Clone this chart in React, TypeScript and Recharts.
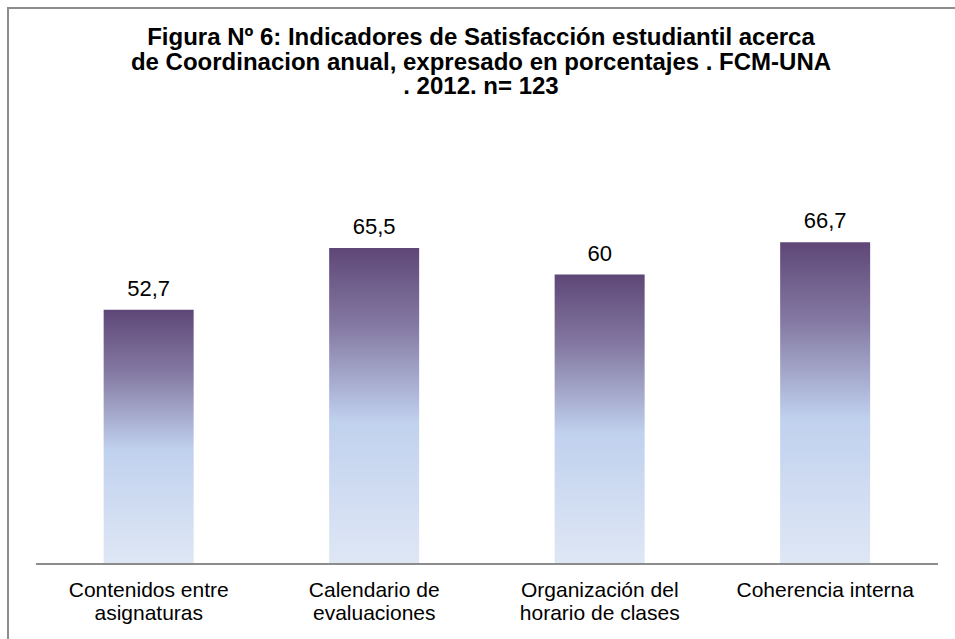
import { BarChart, Bar, XAxis, YAxis, LabelList } from "recharts"

const categories = [
  ["Contenidos entre", "asignaturas"],
  ["Calendario de", "evaluaciones"],
  ["Organización del", "horario de clases"],
  ["Coherencia interna"],
]
const values = [52.7, 65.5, 60, 66.7]
const titleLines = [
  "Figura Nº 6: Indicadores de Satisfacción estudiantil acerca",
  "de Coordinacion anual, expresado en porcentajes . FCM-UNA",
  ". 2012. n= 123",
]

const data = categories.map((lines, i) => ({ name: lines.join(" "), lines, value: values[i] }))

const font = "'Liberation Sans', Arial, sans-serif"

function CategoryTick(props: any) {
  const { x, y, payload, index } = props
  const lines = categories[index] ?? [payload.value]
  return (
    <text x={x} y={y} textAnchor="middle" fontFamily={font} fontSize={21} fill="#000">
      {lines.map((l, i) => (
        <tspan key={i} x={x} dy={i === 0 ? 25 : 23}>
          {l}
        </tspan>
      ))}
    </text>
  )
}

export default function App() {
  return (
    <div style={{ position: "absolute", left: 0, top: 0, width: 955, height: 639, background: "#fff" }}>
      <div
        style={{
          position: "absolute",
          left: 7,
          top: 7,
          right: 0,
          bottom: 0,
          borderTop: "2px solid #8c8c8c",
          borderLeft: "2px solid #8c8c8c",
        }}
      />
      <div
        style={{
          position: "absolute",
          left: 7,
          top: 25,
          width: 948,
          textAlign: "center",
          fontFamily: font,
          fontWeight: "bold",
          fontSize: 24,
          lineHeight: "24.5px",
          color: "#000",
        }}
      >
        {titleLines.map((t, i) => (
          <div key={i}>{t}</div>
        ))}
      </div>
      <div style={{ position: "absolute", left: 0, top: 0 }}>
        <BarChart
          width={955}
          height={639}
          data={data}
          margin={{ top: 178, right: 17, left: 36, bottom: 15 }}
          barCategoryGap="30%"
        >
          <defs>
            <linearGradient id="barGrad" x1="0" y1="0" x2="0" y2="1">
              <stop offset="0%" stopColor="#5e4777" />
              <stop offset="25%" stopColor="#857aa3" />
              <stop offset="55%" stopColor="#c0d1ee" />
              <stop offset="100%" stopColor="#dfe7f5" />
            </linearGradient>
          </defs>
          <XAxis
            dataKey="name"
            height={60}
            tickLine={false}
            axisLine={{ stroke: "#8c8c8c", strokeWidth: 2 }}
            tick={<CategoryTick />}
            interval={0}
          />
          <YAxis hide domain={[0, 80]} />
          <Bar dataKey="value" fill="url(#barGrad)" isAnimationActive={false}>
            <LabelList
              dataKey="value"
              position="top"
              offset={14}
              fontFamily={font}
              fontSize={22}
              fill="#000"
              formatter={(v: any) => String(v).replace(".", ",")}
            />
          </Bar>
        </BarChart>
      </div>
    </div>
  )
}
